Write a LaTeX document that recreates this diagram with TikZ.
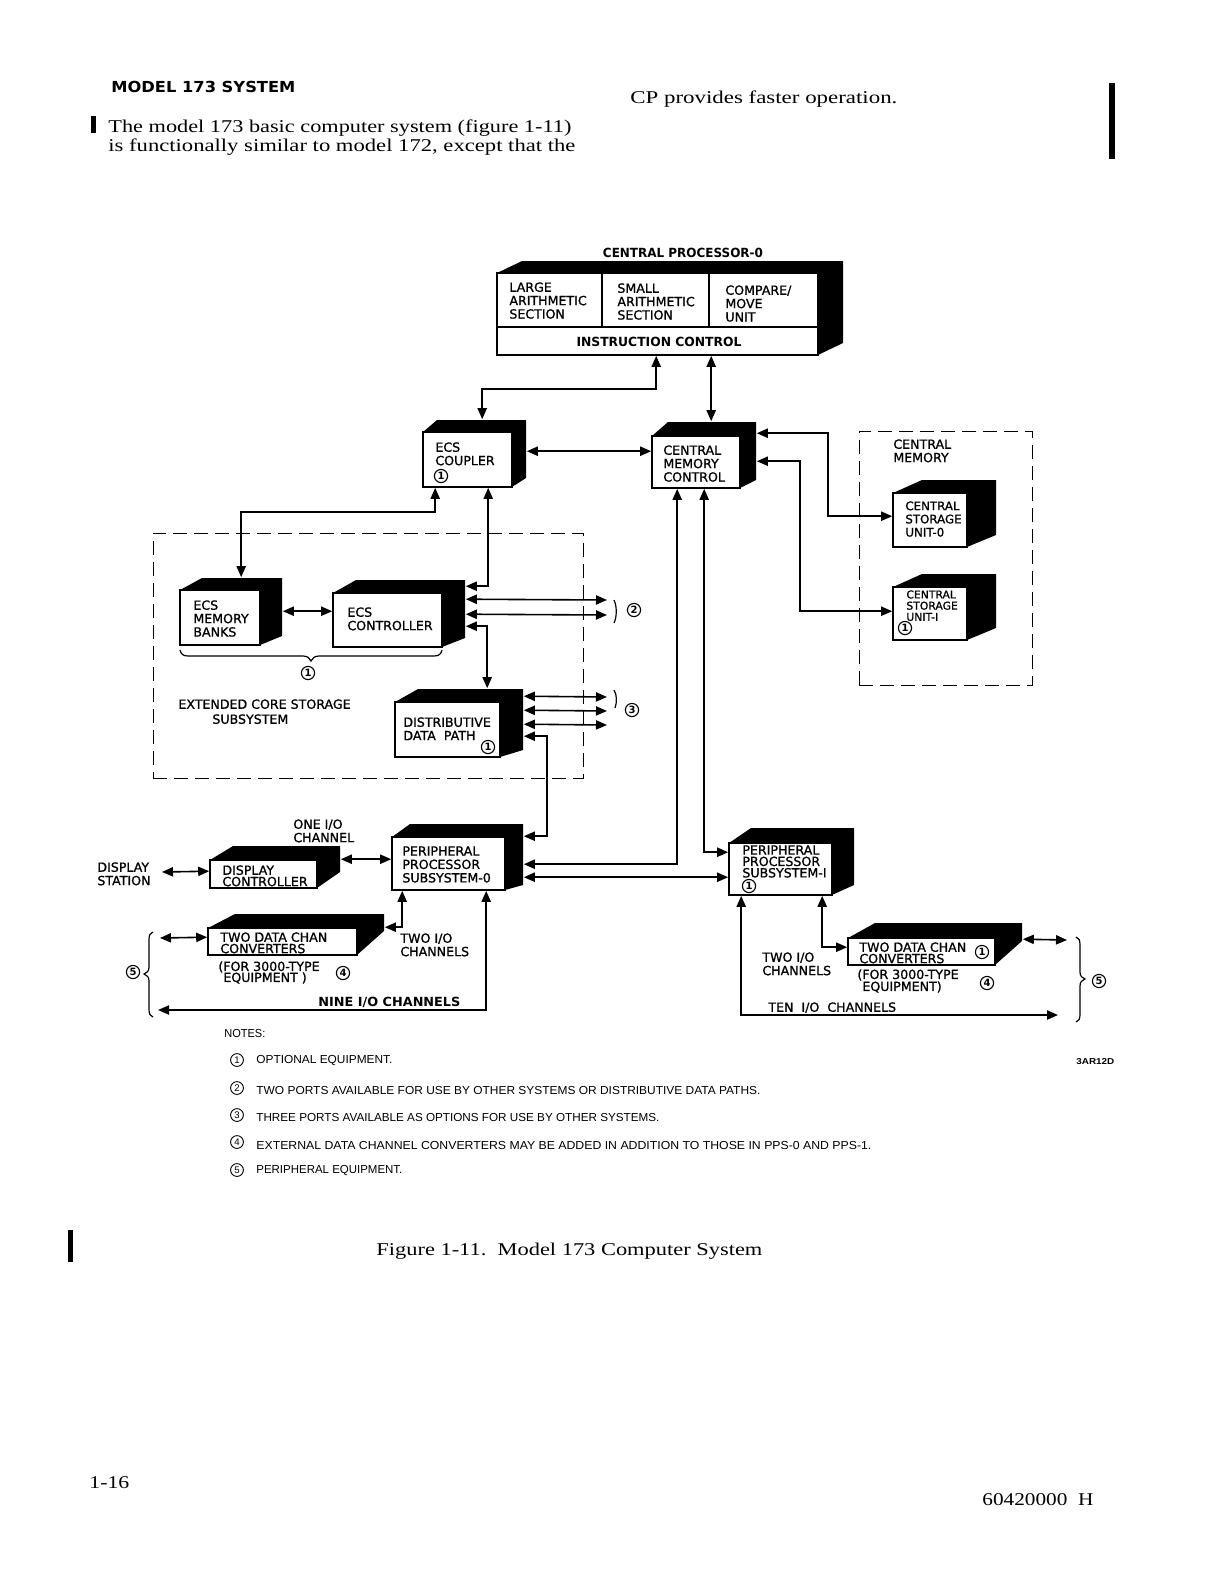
\documentclass[tikz,border=0pt]{standalone}
\usepackage{fontspec}
\usepackage{graphicx}
\setmainfont{Liberation Serif}
\newfontfamily\djfont{DejaVu Sans}[BoldFont={DejaVu Sans}, BoldFeatures={FakeBold=1.0}]
\newfontfamily\djbfont{DejaVu Sans Bold}
\newfontfamily\hvfont{Liberation Sans}
\usetikzlibrary{arrows.meta,fit,calc}
\newcommand\fitw[2]{\resizebox{#1}{\height}{#2}}
\newcommand\labfont{\djfont\bfseries\fontsize{6.3}{6.7}\selectfont}
\newcommand\labtight{\djfont\bfseries\fontsize{6.3}{5.7}\selectfont}
\newcommand\labmid{\djfont\bfseries\fontsize{5.9}{6.6}\selectfont}
\newcommand\labsmall{\djfont\bfseries\fontsize{5.4}{5.6}\selectfont}
\newcommand\labbold{\djbfont\fontsize{6.3}{6.7}\selectfont}
\newcommand\cnfont{\djbfont\fontsize{5}{5}\selectfont}
\newcommand\notefont{\hvfont\fontsize{5.8}{6}\selectfont}
\newcommand\bodyfont{\fontsize{9}{10}\selectfont}
\newcommand\headfont{\djbfont\fontsize{7.6}{8}\selectfont}
% name x1 y1 x2 y2 dx dy dybottom
\newcommand\boxthree[8]{%
  \fill[black] (#2,#3) -- ({#2+#6},{#3+(#7)}) -- ({#4+#6},{#3+(#7)}) -- ({#4+#6},{#5+(#8)}) -- (#4,#5) -- (#4,#3) -- cycle;
  \node[face, fit={(#2,#3) (#4,#5)}] (#1) {};}
\begin{document}
\begin{tikzpicture}[x=0.5pt,y=-0.5pt,
  >={Triangle[length=5.5pt,width=4.6pt]},
  face/.style={draw=black, fill=white, line width=0.8pt, inner sep=0pt},
  lab/.style={font=\labfont, inner sep=0pt, anchor=north west, align=left},
  labt/.style={font=\labtight, inner sep=0pt, anchor=north west, align=left},
  cn/.style={circle, draw, line width=0.55pt, inner sep=0pt, minimum size=6.6pt, font=\cnfont},
  ncn/.style={circle, draw, line width=0.45pt, inner sep=0pt, minimum size=6.4pt, font=\hvfont\fontsize{4.8}{5}\selectfont},
  conn/.style={line width=0.8pt, <->},
  dashbox/.style={draw, dash pattern=on 7pt off 3.5pt, line width=0.5pt, inner sep=0pt},
  txt/.style={inner sep=0pt},
  brace/.style={line width=0.6pt}
]
\fill[white] (0,0) rectangle (1218,1581);
\useasboundingbox (0,0) rectangle (1218,1581);

% ---------------- page text ----------------
\node[txt, anchor=west] (head) at (111,87) {\fitw{92pt}{\headfont MODEL 173 SYSTEM}};
\node[txt, anchor=base west] (cptext) at (630,103) {\fitw{133.5pt}{\bodyfont CP provides faster operation.}};
\node[txt, anchor=base west] (body1) at (108,132) {\fitw{231.5pt}{\bodyfont The model 173 basic computer system (figure 1-11)}};
\node[txt, anchor=base west] (body2) at (108,151) {\fitw{233.5pt}{\bodyfont is functionally similar to model 172, except that the}};
\fill (91,116) rectangle (96,133);
\fill (1109,83) rectangle (1115,159);
\fill (68,1230) rectangle (73,1262);
\node[txt, anchor=base west] (caption) at (376,1255) {\fitw{193pt}{\bodyfont Figure 1-11.\ \ Model 173 Computer System}};
\node[txt, anchor=base west] (pageno) at (89,1488) {\fitw{20pt}{\bodyfont 1-16}};
\node[txt, anchor=base west] (docno) at (982,1505) {\fitw{55.5pt}{\bodyfont 60420000\ \ H}};
\node[txt, anchor=west] (artno) at (1076,1062) {\fitw{19pt}{\hvfont\bfseries\fontsize{4.3}{5}\selectfont 3AR12D}};

% ---------------- dashed enclosures ----------------
\node[dashbox, fit={(153,533) (583,778)}] (ecsbox) {};
\node[dashbox, fit={(859,431) (1032,685)}] (cmbox) {};

% ---------------- boxes ----------------
\boxthree{cp}{497}{273}{818}{355}{25}{-12}{-12}
\draw[line width=0.8pt] ($(cp.north west)+(0,55)$) -- ($(cp.north east)+(0,55)$);
\draw[line width=0.8pt] ($(cp.north west)+(106,0)$) -- ++(0,55);
\draw[line width=0.8pt] ($(cp.north west)+(213,0)$) -- ++(0,55);
\boxthree{cpl}{423}{432}{512}{487}{14}{-12}{-9}
\boxthree{cmc}{652}{436}{740}{488}{16}{-14}{-8}
\boxthree{emb}{180}{590}{260}{645}{22}{-12}{-9}
\boxthree{ctl}{333}{593}{442}{647}{23}{-13}{-9}
\boxthree{ddp}{395}{702}{500}{757}{23}{-13}{-7}
\boxthree{pp0}{392}{837}{505}{890}{18}{-13}{-5}
\boxthree{dc}{210}{860}{317}{888}{23}{-14}{-16}
\boxthree{dcl}{208}{928}{357}{955}{27}{-14}{-24}
\boxthree{pp1}{729}{843}{832}{895}{22}{-15}{-10}
\boxthree{dcr}{848}{938}{995}{965}{27}{-15}{-24}
\boxthree{cs0}{893}{493}{967}{547}{29}{-13}{-12}
\boxthree{cs1}{893}{587}{967}{640}{29}{-13}{-12}

% ---------------- box texts ----------------
\node[txt] (cplabel) at (683,253) {\fitw{80pt}{\labbold CENTRAL PROCESSOR-0}};
\node[lab] (tlarge) at (509,282) {LARGE\\ARITHMETIC\\SECTION};
\node[lab] (tsmall) at (617,283) {SMALL\\ARITHMETIC\\SECTION};
\node[lab] (tcmp) at (725,285) {COMPARE/\\MOVE\\UNIT};
\node[txt] (tinstr) at (659,342) {\fitw{82.5pt}{\labbold INSTRUCTION CONTROL}};
\node[lab] (tcpl) at (435,442) {ECS\\COUPLER};
\node[cn] (ncpl) at (441,476) {1};
\node[lab] (tcmc) at (663,445) {CENTRAL\\MEMORY\\CONTROL};
\node[lab] (temb) at (193,600) {ECS\\MEMORY\\BANKS};
\node[lab] (tctl) at (347,607) {ECS\\CONTROLLER};
\node[lab] (tddp) at (403,717) {DISTRIBUTIVE\\DATA\ \ PATH};
\node[cn] (nddp) at (488,747) {1};
\node[lab] (tpp0) at (402,846) {PERIPHERAL\\PROCESSOR\\SUBSYSTEM-0};
\node[labt] (tdc) at (222,865) {DISPLAY\\CONTROLLER};
\node[labt] (tdcl) at (220,932) {TWO DATA CHAN\\CONVERTERS};
\node[lab] (tfor0) at (218,961) {(FOR 3000-TYPE};
\node[lab] (teq0) at (223,972) {EQUIPMENT )};
\node[cn] (n4a) at (343,973) {4};
\node[labt] (tpp1) at (742,845) {PERIPHERAL\\PROCESSOR\\SUBSYSTEM-I};
\node[cn] (npp1) at (749,886) {1};
\node[labt] (tdcr) at (859,942) {TWO DATA CHAN\\CONVERTERS};
\node[cn] (ndcr) at (982,952) {1};
\node[lab] (tfor1) at (857,969) {(FOR 3000-TYPE};
\node[lab] (teq1) at (862,981) {EQUIPMENT)};
\node[cn] (n4b) at (987,983) {4};
\node[lab] (ttwo1) at (762,952) {TWO I/O\\CHANNELS};
\node[lab] (ttwo0) at (400,933) {TWO I/O\\CHANNELS};
\node[lab] (tten) at (768,1002) {TEN\ \ I/O\ \ CHANNELS};
\node[txt, anchor=west] (tnine) at (318,1002) {\fitw{71pt}{\labbold NINE I/O CHANNELS}};
\node[lab] (tone) at (293,819) {ONE I/O\\CHANNEL};
\node[lab] (tdst) at (97,862) {DISPLAY\\STATION};
\node[lab] (text1) at (178,699) {EXTENDED CORE STORAGE};
\node[lab] (text2) at (212,714) {SUBSYSTEM};
\node[lab] (tcm) at (893,439) {CENTRAL\\MEMORY};
\node[lab, font=\labmid] (tcs0) at (905,501) {CENTRAL\\STORAGE\\UNIT-0};
\node[lab, font=\labsmall] (tcs1) at (906,590) {CENTRAL\\STORAGE\\UNIT-I};
\node[cn] (ncs1) at (905,628) {1};
\node[cn] (nbr) at (308,673) {1};
\node[cn] (n2) at (634,610) {2};
\node[cn] (n3) at (632,710) {3};
\node[cn] (n5a) at (133,972) {5};
\node[cn] (n5b) at (1099,981) {5};

% ---------------- free ends ----------------
\coordinate (p2a) at (607,600);
\coordinate (p2b) at (607,615);
\coordinate (p3a) at (607,697);
\coordinate (p3b) at (607,711);
\coordinate (p3c) at (607,725);
\coordinate (dstn) at (162,872);
\coordinate (peq0) at (160,938);
\coordinate (nine) at (158,1010);
\coordinate (ten) at (1058,1015);
\coordinate (peq1) at (1067,940);

% ---------------- connectors ----------------
\draw[conn] ($(cp.south west)+(160,0)$) -- ++(0,33) -| ($(cpl.north west)+(60,-12)$);
\draw[conn] ($(cp.south west)+(215,0)$) -- ($(cmc.north west)+(60,-14)$);
\draw[conn] ($(cpl.north east)+(14,20)$) -- ($(cmc.north west)+(0,16)$);
\draw[conn] ($(cpl.south west)+(13,0)$) -- ++(0,24) -| ($(emb.north west)+(62,-12)$);
\draw[conn] ($(cpl.south west)+(66,0)$) |- ($(ctl.north east)+(23,-6)$);
\draw[conn] ($(emb.north east)+(22,22)$) -- ($(ctl.north west)+(0,19)$);
\draw[conn] ($(ctl.north east)+(23,7)$) -- (p2a);
\draw[conn] ($(ctl.north east)+(23,22)$) -- (p2b);
\draw[conn] ($(ctl.north east)+(23,34)$) -| ($(ddp.north west)+(93,-13)$);
\draw[conn] ($(ddp.north east)+(23,-5)$) -- (p3a);
\draw[conn] ($(ddp.north east)+(23,9)$) -- (p3b);
\draw[conn] ($(ddp.north east)+(23,23)$) -- (p3c);
\draw[conn] ($(ddp.north east)+(23,35)$) -- ++(23,0) |- ($(pp0.north east)+(18,0)$);
\draw[conn] ($(cmc.south west)+(26,0)$) |- ($(pp0.north east)+(18,28)$);
\draw[conn] ($(cmc.south west)+(53,0)$) |- ($(pp1.north west)+(0,10)$);
\draw[conn] ($(pp0.north east)+(18,41)$) -- ($(pp1.north west)+(0,35)$);
\draw[conn] (dstn) -- ($(dc.north west)+(0,12)$);
\draw[conn] ($(dc.north east)+(23,0)$) -- ($(pp0.north west)+(0,23)$);
\draw[conn] ($(pp0.south west)+(11,0)$) |- ($(dcl.north east)+(27,0)$);
\draw[conn] (peq0) -- ($(dcl.north west)+(0,10)$);
\draw[conn] ($(pp0.south west)+(95,0)$) |- (nine);
\draw[conn] ($(pp1.south west)+(13,0)$) |- (ten);
\draw[conn] ($(pp1.south west)+(94,0)$) |- ($(dcr.north west)+(0,10)$);
\draw[conn] ($(dcr.north east)+(27,2)$) -- (peq1);
\draw[conn] ($(cmc.north east)+(16,-2)$) -- ++(71,0) |- ($(cs0.north west)+(0,24)$);
\draw[conn] ($(cmc.north east)+(16,26)$) -- ++(43,0) |- ($(cs1.north west)+(0,25)$);

% ---------------- braces ----------------
\draw[brace] (180,650) .. controls (181,654) and (183,656) .. (188,656) -- (303,656)
  .. controls (307,656) and (310,658) .. (311,661) .. controls (312,658) and (315,656) .. (319,656)
  -- (434,656) .. controls (439,656) and (441,654) .. (442,650);
\draw[brace] (614,600) .. controls (617,606) and (617,617) .. (614,623);
\draw[brace] (614,690) .. controls (617,694) and (617,703) .. (615,708);
\draw[brace] (153,932) .. controls (150,933) and (149,935) .. (149,940) -- (149,967)
  .. controls (149,971) and (147,973) .. (144,974) .. controls (147,975) and (149,977) .. (149,981)
  -- (149,1009) .. controls (149,1014) and (150,1016) .. (153,1017);
\draw[brace] (1076,937) .. controls (1079,938) and (1080,940) .. (1080,945) -- (1080,972)
  .. controls (1080,976) and (1082,978) .. (1085,979) .. controls (1082,980) and (1080,982) .. (1080,986)
  -- (1080,1014) .. controls (1080,1019) and (1079,1021) .. (1076,1022);

% ---------------- notes ----------------
\node[txt, anchor=west] (notes) at (224,1033) {\fitw{20.5pt}{\notefont NOTES:}};
\node[ncn] (c1) at (237,1060) {1};
\node[ncn] (c2) at (237,1088) {2};
\node[ncn] (c3) at (237,1115) {3};
\node[ncn] (c4) at (237,1142) {4};
\node[ncn] (c5) at (237,1170) {5};
\node[txt, anchor=west] (note1) at (256,1061) {\fitw{68pt}{\notefont OPTIONAL EQUIPMENT.}};
\node[txt, anchor=west] (note2) at (256,1090) {\fitw{252pt}{\notefont TWO PORTS AVAILABLE FOR USE BY OTHER SYSTEMS OR DISTRIBUTIVE DATA PATHS.}};
\node[txt, anchor=west] (note3) at (256,1117) {\fitw{201.5pt}{\notefont THREE PORTS AVAILABLE AS OPTIONS FOR USE BY OTHER SYSTEMS.}};
\node[txt, anchor=west] (note4) at (256,1145) {\fitw{307.5pt}{\notefont EXTERNAL DATA CHANNEL CONVERTERS MAY BE ADDED IN ADDITION TO THOSE IN PPS-0 AND PPS-1.}};
\node[txt, anchor=west] (note5) at (256,1171) {\fitw{73pt}{\notefont PERIPHERAL EQUIPMENT.}};
\end{tikzpicture}
\end{document}
